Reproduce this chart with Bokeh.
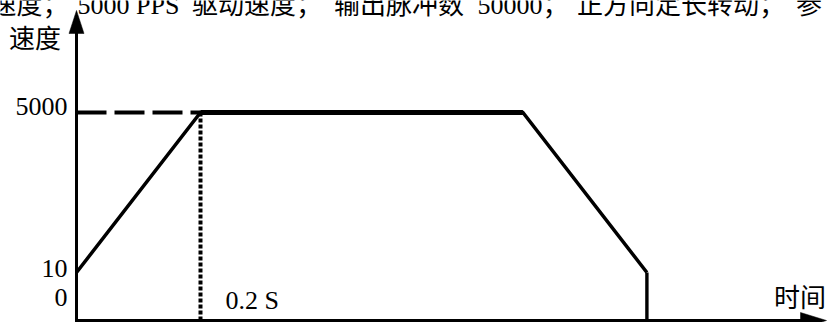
from bokeh.plotting import figure
from bokeh.models import Range1d
from bokeh.core.properties import value
from bokeh.embed import file_html
from bokeh.resources import INLINE

# ---------------- data ----------------
profile_time_s = [0.0, 0.2, 0.72, 0.92]          # start, end of accel, start of decel, end
profile_speed_pps = [10, 5000, 5000, 10]          # speed at those instants
start_speed = 10
drive_speed = 5000
accel_time_s = 0.2
y_tick_labels = ["5000", "10", "0"]
x_tick_label = "0.2 S"
y_title = "速度"
x_title = "时间"
caption_parts = ["速度；", "5000 PPS", "驱动速度；", "输出脉冲数", "50000；", "正方向定长转动；", "参"]

# ---------------- schematic geometry (reference-pixel frame) ----------------
W, H = 827, 322
X0_PX, PX_PER_S = 76, 620.0
Y10_PX, Y5000_PX = 272, 112
PPS_PER_PX = (drive_speed - start_speed) / (Y10_PX - Y5000_PX)
BASE_PX = 320
TEXT_SHIFT = 9   # correction for how the text baseline is rendered


def tx(px):
    return (px - X0_PX) / PX_PER_S


def vy(py):
    return start_speed + (Y10_PX - py) * PPS_PER_PX


def ty(py):
    return vy(py - TEXT_SHIFT)


base = vy(BASE_PX)
FONT = value("Liberation Serif, Noto Sans CJK SC")
FS = "26px"

p = figure(width=W, height=H, output_backend="svg", toolbar_location=None,
           x_range=Range1d(tx(0), tx(W)), y_range=Range1d(vy(H), vy(0)),
           x_axis_location=None, y_axis_location=None, min_border=0,
           background_fill_color="white", border_fill_color="white")
p.grid.visible = False
p.outline_line_color = None

# axes
p.segment(x0=[0], y0=[vy(321.5)], x1=[0], y1=[vy(30)], line_width=3, line_color="black")
hw_t = 7.5 / PX_PER_S
p.patch([-hw_t, 0, hw_t], [vy(33), vy(10), vy(33)], color="black", line_width=0.5)
p.segment(x0=[tx(74.5)], y0=[base], x1=[tx(805)], y1=[base], line_width=3, line_color="black")
p.patch([tx(800), tx(826), tx(800)], [vy(BASE_PX - 8), base, vy(BASE_PX + 8)],
        color="black", line_width=0.5)

# reference lines
p.segment(x0=[0], y0=[drive_speed], x1=[accel_time_s], y1=[drive_speed],
          line_width=4, line_color="black", line_dash="30 8")
p.segment(x0=[accel_time_s], y0=[drive_speed], x1=[accel_time_s], y1=[base],
          line_width=4, line_color="black", line_dash="4 2")

# speed profile
p.line(profile_time_s, profile_speed_pps, line_width=3.5, line_color="black", line_join="miter")
p.line(profile_time_s[1:3], profile_speed_pps[1:3], line_width=5, line_color="black")
p.segment(x0=[profile_time_s[-1]], y0=[profile_speed_pps[-1]], x1=[profile_time_s[-1]], y1=[base],
          line_width=3.4, line_color="black")

# tick labels
p.text(x=[tx(67)] * 3, y=[ty(115), ty(277), ty(306)], text=y_tick_labels,
       text_font=FONT, text_font_size=FS, text_align="right", text_baseline="alphabetic",
       text_color="black")
p.text(x=[tx(225)], y=[ty(309)], text=[x_tick_label], text_font=FONT, text_font_size=FS,
       text_align="left", text_baseline="alphabetic", text_color="black")

# axis titles
p.text(x=[tx(8.5), tx(773.5)], y=[ty(48), ty(307)], text=[y_title, x_title],
       text_font=FONT, text_font_size=FS, text_align="left", text_baseline="alphabetic",
       text_color="black")

# caption (cut off at top in the original)
cap_x = [-10, 77, 191.5, 333.5, 477, 576.5, 795.5]
p.text(x=[tx(v) for v in cap_x], y=[ty(14)] * len(caption_parts), text=caption_parts,
       text_font=FONT, text_font_size=FS, text_align="left", text_baseline="alphabetic",
       text_color="black")

open("out.html", "w").write(file_html(p, INLINE))
